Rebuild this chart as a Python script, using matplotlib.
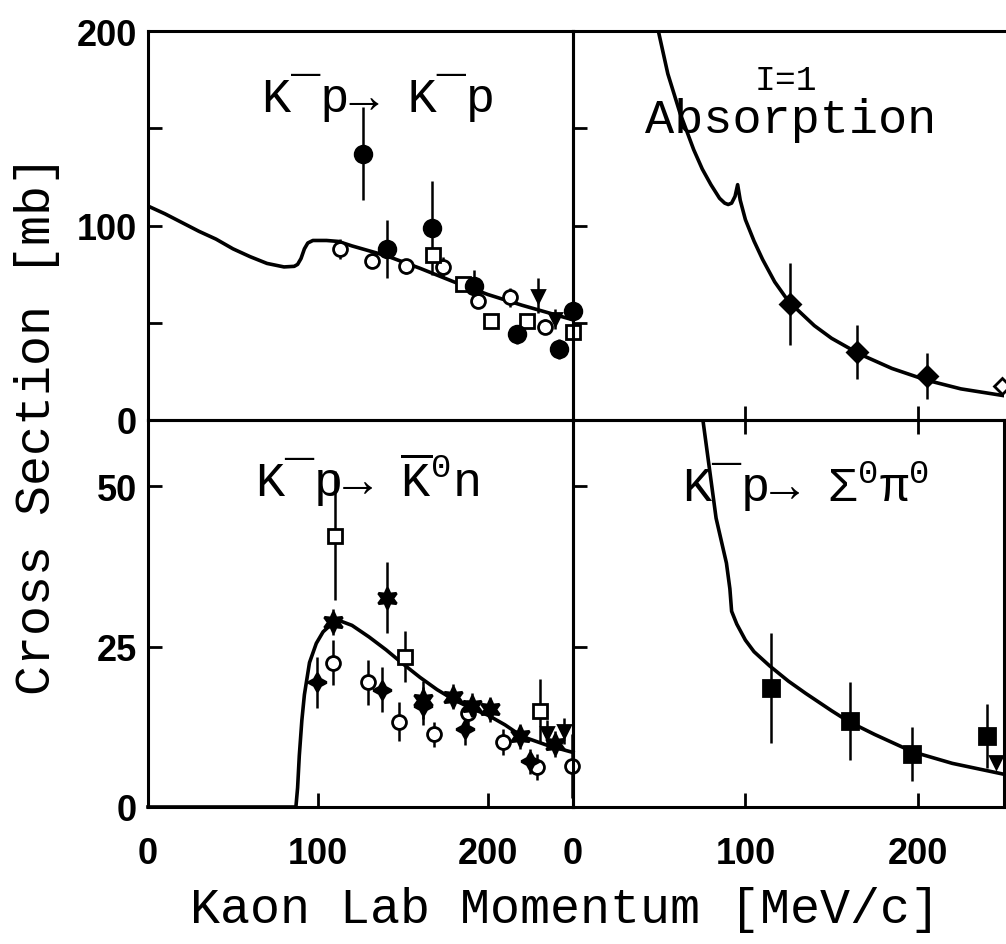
import matplotlib
matplotlib.use("Agg")
import matplotlib.pyplot as plt
from matplotlib import font_manager as fm

# ---------------- data ----------------
# K- p -> K- p (elastic)
el_curve_x = [0, 10, 20, 30, 40, 50, 60, 70, 80, 86, 88, 90, 92, 94, 97, 105, 112, 120, 140, 160, 180, 200, 220, 240, 250]
el_curve_y = [110, 106, 101.5, 97, 93, 88, 84, 80.5, 78.7, 79, 80, 83, 88, 91, 92.3, 92.3, 91.8, 89.5, 84.5, 78, 71, 64.5, 59, 54, 51.5]
el_fc_x = [126.5, 140.6, 167, 192, 217, 242, 250]
el_fc_y = [137, 88, 98.7, 69, 44, 36.5, 56]
el_fc_e = [24, 15, 24, 8, 5, 5, 6]
el_oc_x = [113, 132, 152, 173.5, 194, 213, 233.5]
el_oc_y = [88, 82, 79, 78.6, 61, 63, 48]
el_oc_e = [5, 4, 4, 5, 3, 5, 4]
el_os_x = [167.6, 185, 202, 223, 250]
el_os_y = [85, 70, 51, 51, 45]
el_tr_x = [229.5, 239.5]
el_tr_y = [64, 52]
el_tr_e = [9, 5]

# I=1 absorption
ab_curve_x = [49.5, 55, 62, 70, 75, 80, 85, 88, 90, 92, 94, 95.5, 97, 100, 105, 110, 117, 125, 140, 150, 166, 185, 205, 225, 250]
ab_curve_y = [200, 178, 158, 139, 129, 121, 114, 111.5, 110.8, 111.5, 115, 121, 113, 103, 92, 82.5, 71, 61, 48.5, 42, 34, 26.5, 20.5, 16, 12.5]
ab_fd_x = [125.7, 164.7, 205.5]
ab_fd_y = [59.6, 35, 22.6]
ab_fd_e = [21, 14, 12]
ab_od_x = [249]
ab_od_y = [17.5]

# K- p -> K0bar n (charge exchange)
cx_curve_x = [0, 87, 88, 89, 90.5, 92, 95, 99, 103, 108, 113, 120, 130, 140, 150, 160, 170, 180, 190, 200, 210, 220, 235, 250]
cx_curve_y = [0, 0, 3, 8, 13.5, 17.5, 22.5, 25.5, 27.3, 28.5, 29, 28.3, 26.5, 24.5, 22.3, 20.2, 18.3, 16.7, 15.4, 14.3, 12.8, 11, 9.6, 8.5]
cx_os_x = [110, 151, 230.6]
cx_os_y = [42.3, 23.4, 14.9]
cx_os_e = [10, 4, 5]
cx_st_x = [109, 140.6, 161.8, 179.4, 190.6, 201, 219, 239.4]
cx_st_y = [28.8, 32.6, 16.7, 17.2, 15.7, 15.2, 11, 9.8]
cx_st_e = [2, 5.5, 3, 2, 2, 2, 2, 2]
cx_oc_x = [109, 129.4, 147.6, 168, 188, 208.8, 228.6, 249.5]
cx_oc_y = [22.5, 19.4, 13.3, 11.3, 14.7, 10.1, 6.2, 6.4]
cx_oc_e = [3.5, 3.5, 3, 2, 2, 2, 2, 5]
cx_fs_x = [99.2, 137.6, 161.8, 186.5, 224.7]
cx_fs_y = [19.4, 18.3, 15.7, 12.1, 7.1]
cx_fs_e = [4, 3.5, 3, 2.5, 2]
cx_tr_x = [234.7, 244.5]
cx_tr_y = [11.5, 11.8]
cx_tr_e = [2, 2]

# K- p -> Sigma0 pi0
sp_curve_x = [75.5, 80, 83, 86, 89, 91, 92, 95, 100, 105, 114, 125, 135, 150, 160, 175, 197, 220, 250]
sp_curve_y = [60, 51, 45, 41.5, 38, 34, 30.5, 28.5, 26, 24.2, 22, 19.6, 17.7, 15, 13.3, 11.3, 8.6, 6.8, 5.1]
sp_sq_x = [114.7, 160.7, 196.7, 240.4]
sp_sq_y = [18.5, 13.4, 8.3, 11.1]
sp_sq_e = [8.6, 6, 4.2, 5]
sp_tr_x = [245.6]
sp_tr_y = [7]

x_ticks = [0, 100, 200]
x_ticklabels = ["0", "100", "200"]
top_yticks = [0, 50, 100, 150, 200]
top_yticklabels = ["0", "", "100", "", "200"]
bot_yticks = [0, 25, 50]
bot_yticklabels = ["0", "25", "50"]

title_el = "K¯p→ K¯p"
title_ab_1 = "I=1"
title_ab_2 = "Absorption"
title_cx = r"K¯p→ $\overline{\rm K}^{\rm 0}$n"
title_sp = r"K¯p→ Σ$^{\rm 0}$π$^{\rm 0}$"
xlabel = "Kaon Lab Momentum [MeV/c]"
ylabel = "Cross Section [mb]"

# ---------------- style ----------------
plt.rcParams["mathtext.fontset"] = "custom"
plt.rcParams["mathtext.rm"] = "Liberation Mono"
plt.rcParams["mathtext.it"] = "Liberation Mono:italic"
plt.rcParams["mathtext.bf"] = "Liberation Mono:bold"

MONO = ["Liberation Mono", "DejaVu Sans Mono"]


def has_font(name):
    try:
        fm.findfont(fm.FontProperties(family=name), fallback_to_default=False)
        return True
    except Exception:
        return False


if has_font("Liberation Sans Narrow"):
    TICKFAM, TICKSIZE = "Liberation Sans Narrow", 30
else:
    TICKFAM, TICKSIZE = "Liberation Sans", 26

W, H = 1006, 945
fig = plt.figure(figsize=(W / 100, H / 100), dpi=100)
fig.patch.set_facecolor("white")


def px_axes(x0, x1, y0, y1):
    return fig.add_axes([x0 / W, 1 - y1 / H, (x1 - x0) / W, (y1 - y0) / H])


ax_tl = px_axes(148, 573, 32, 421)
ax_tr = px_axes(573, 1004, 32, 421)
ax_bl = px_axes(148, 573, 421, 808)
ax_br = px_axes(573, 1004, 421, 808)

for ax in (ax_tl, ax_tr, ax_bl, ax_br):
    ax.set_xlim(0, 250)
    for s in ax.spines.values():
        s.set_linewidth(2.2)
    ax.tick_params(direction="in", length=10, width=2, pad=8)
    ax.set_facecolor("none")
ax_tl.set_ylim(0, 200)
ax_tr.set_ylim(0, 200)
ax_bl.set_ylim(0, 60.3)
ax_br.set_ylim(0, 60.3)
ax_tr.spines["right"].set_visible(False)

tickfont = dict(family=TICKFAM, size=TICKSIZE, weight="bold")

# top-left
ax_tl.set_xticks([])
ax_tl.set_yticks(top_yticks)
ax_tl.set_yticklabels(top_yticklabels, fontdict=tickfont)
# top-right
ax_tr.set_yticks(top_yticks[1:4])
ax_tr.set_yticklabels([])
ax_tr.set_xticks(x_ticks[1:])
ax_tr.set_xticklabels([])
# bottom-left
ax_bl.set_yticks(bot_yticks)
ax_bl.set_yticklabels(bot_yticklabels, fontdict=tickfont)
ax_bl.set_xticks(x_ticks)
ax_bl.set_xticklabels(x_ticklabels, fontdict=tickfont)
ax_bl.tick_params(axis="x", pad=21)
# bottom-right
ax_br.set_yticks(bot_yticks[1:])
ax_br.set_yticklabels([])
ax_br.set_xticks(x_ticks)
ax_br.set_xticklabels(x_ticklabels, fontdict=tickfont)
ax_br.tick_params(axis="x", pad=21, top=True)

LW = 2.6
EW = 1.8


def pts(ax, x, y, e, marker, ms, filled, clip=True):
    ax.errorbar(x, y, yerr=e, fmt="none", ecolor="k", elinewidth=EW, capsize=0,
                clip_on=clip, zorder=3)
    ax.plot(x, y, linestyle="none", marker=marker, ms=ms,
            mfc="k" if filled else "white", mec="k", mew=2,
            clip_on=clip, zorder=4)


star6 = (6, 1, 0)
star4 = (4, 1, 0)

# --- elastic
ax_tl.plot(el_curve_x, el_curve_y, color="k", lw=LW, zorder=2)
pts(ax_tl, el_oc_x, el_oc_y, el_oc_e, "o", 10, False)
pts(ax_tl, el_os_x, el_os_y, None, "s", 10, False, clip=False)
pts(ax_tl, el_fc_x, el_fc_y, el_fc_e, "o", 12, True, clip=False)
pts(ax_tl, el_tr_x, el_tr_y, el_tr_e, "v", 9, True)
ax_tl.text(0.268, 0.794, title_el, transform=ax_tl.transAxes, family=MONO,
           size=35, ha="left", va="baseline")

# --- absorption
ax_tr.plot(ab_curve_x, ab_curve_y, color="k", lw=LW, zorder=2)
pts(ax_tr, ab_fd_x, ab_fd_y, ab_fd_e, "D", 10, True)
pts(ax_tr, ab_od_x, ab_od_y, None, "D", 8, False, clip=False)
ax_tr.text(0.494, 0.851, title_ab_1, transform=ax_tr.transAxes, family=MONO,
           size=25, ha="center", va="baseline")
ax_tr.text(0.167, 0.740, title_ab_2, transform=ax_tr.transAxes, family=MONO,
           size=35, ha="left", va="baseline")

# --- charge exchange
ax_bl.plot(cx_curve_x, cx_curve_y, color="k", lw=LW, zorder=2, clip_on=False)
pts(ax_bl, cx_oc_x, cx_oc_y, cx_oc_e, "o", 10, False, clip=False)
pts(ax_bl, cx_os_x, cx_os_y, cx_os_e, "s", 10, False)
pts(ax_bl, cx_st_x, cx_st_y, cx_st_e, star6, 15, True)
pts(ax_bl, cx_fs_x, cx_fs_y, cx_fs_e, star4, 13, True)
pts(ax_bl, cx_tr_x, cx_tr_y, cx_tr_e, "v", 8, True)
ax_bl.text(0.252, 0.804, title_cx, transform=ax_bl.transAxes, family=MONO,
           size=35, ha="left", va="baseline")

# --- Sigma0 pi0
ax_br.plot(sp_curve_x, sp_curve_y, color="k", lw=LW, zorder=2)
pts(ax_br, sp_sq_x, sp_sq_y, sp_sq_e, "s", 11, True)
pts(ax_br, sp_tr_x, sp_tr_y, None, "v", 8, True, clip=False)
ax_br.text(0.253, 0.791, title_sp, transform=ax_br.transAxes, family=MONO,
           size=35, ha="left", va="baseline")

# --- axis labels
fig.text(565 / W, 1 - 923 / H, xlabel, family=MONO, size=36,
         ha="center", va="baseline")
fig.text(37 / W, 1 - 425 / H, ylabel, family=MONO, size=36, rotation=90,
         ha="center", va="center")

fig.savefig("out.png", dpi=100, facecolor="white")
